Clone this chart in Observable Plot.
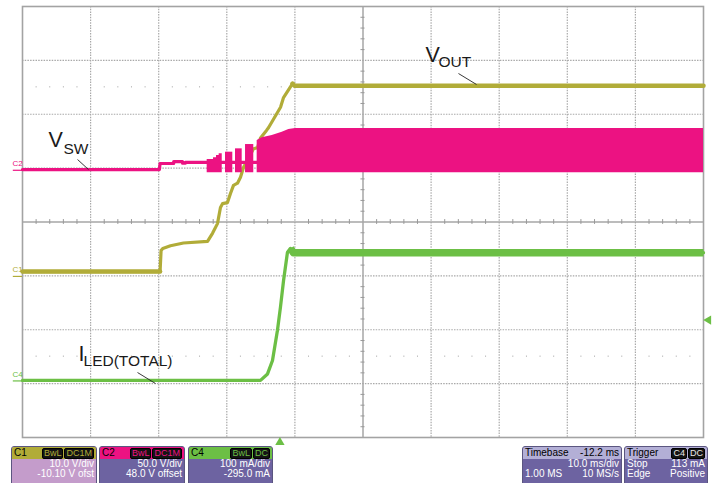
<!DOCTYPE html>
<html>
<head>
<meta charset="utf-8">
<script src="https://cdn.jsdelivr.net/npm/d3@7"></script>
<script src="https://cdn.jsdelivr.net/npm/@observablehq/plot@0.6"></script>
<style>
  html, body { margin: 0; padding: 0; background: #fff; overflow: hidden; }
  #panels { position: relative; width: 715px; height: 38px; font-family: "Liberation Sans", Arial, sans-serif; font-size: 10px; }
  .p { position: absolute; top: 1px; height: 42px; border: 1px solid #5b5680; border-radius: 3px 3px 0 0; overflow: hidden; box-sizing: border-box; }
  .h { height: 12px; line-height: 12px; padding: 0 2px; color: #000; display: flex; justify-content: space-between; align-items: center; }
  .r { height: 10px; line-height: 10px; padding: 0 2px; color: #fff; display: flex; justify-content: space-between; }
  .b { display: inline-block; background: #141414; border: 1px solid #000; border-radius: 2px; padding: 0 1px; font-size: 9px; line-height: 9px; margin-left: 1px; }
</style>
</head>
<body>
<div id="chart"></div>
<div id="panels"></div>
<script>
// ---- scope settings ----
const timebase = -12.2;       // ms
const msPerDiv = 10;
const hDivs = 10, vDivs = 8;
const c1Scale = 10,  c1Offset = -10.10;  // V/div, V
const c2Scale = 50,  c2Offset = 48.0;    // V/div, V
const c4Scale = 100, c4Offset = -295.0;  // mA/div, mA
const triggerLevel = 113;                // mA (C4)

// ---- colours ----
const c1Color = "#b1ac38", c2Color = "#ec1282", c4Color = "#6cbf45";

// ---- C1: V_OUT (ms, V) ----
const voutTime  = [-37.8, -17.6, -17.45, -17.2, -16.07, -14.16, -10.63, -9.90, -9.17, -8.73, -8.43, -7.70, -7.26, -6.82, -6.23, -5.79, -5.35, -3.88, -3.29, -2.85, -1.97, -1.68, 0.09, 0.53, 1.85, 2.14, 62.2];
const voutVolts = [0.9, 0.9, 4.8, 5.2, 5.7, 6.2, 6.5, 8.0, 9.8, 12.8, 13.5, 13.7, 15.4, 16.9, 17.3, 18.4, 20.2, 23.7, 23.9, 25.7, 27.1, 27.6, 31.4, 33.2, 35.8, 35.4, 35.4];

// ---- C2: V_SW (ms, V) ----
const vswLineTime  = [-37.8, -17.7, -17.6, -15.6, -15.6, -14.3, -14.3, -13.9, -13.9, -3.3];
const vswLineVolts = [0.7, 0.7, 6.3, 6.3, 8.0, 8.0, 6.6, 6.6, 7.4, 7.4];
const vswBurstSeg  = ["A", "A", "A", "A", "A", "B", "B", "C", "C", "D", "D"];
const vswBurstTime = [-10.68, -9.75, -9.31, -8.92, -8.47, -7.99, -6.92, -6.52, -5.54, -5.05, -3.84];
const vswBurstTop  = [10.0, 11.6, 13.7, 15.3, 15.3, 16.8, 16.8, 19.9, 19.9, 23.9, 23.9];
const vswEnvTime   = [-3.34, -2.60, -1.13, 0.34, 1.31, 2.29, 62.2];
const vswEnvTop    = [27.6, 30.1, 32.2, 35.3, 37.8, 38.8, 38.8];
const vswLow = -2.3;

// ---- C4: I_LED(TOTAL) (ms, mA) ----
const iledTime = [-37.8, -2.85, -1.82, -1.09, -0.36, 0.08, 0.53, 1.11, 1.55, 2.0, 62.2];
const iledMa   = [1, 1, 13, 38, 94, 137, 186, 239, 246, 238, 238];

// ---- annotations (ms, divisions) ----
const labelMain    = ["V", "V", "I"];
const labelMainT   = [-33.98, 21.38, -29.58];
const labelMainY   = [1.383, 2.961, -2.571];
const labelSub     = ["SW", "OUT", "LED(TOTAL)"];
const labelSubT    = [-31.78, 23.29, -28.84];
const labelSubY    = [1.271, 2.868, -2.682];
const leaderT1 = [-29.72, 26.22, -20.91], leaderY1 = [1.160, 2.756, -2.794];
const leaderT2 = [-28.11, 28.87, -18.27], leaderY2 = [0.974, 2.552, -2.998];

// ---- channel markers ----
const markerNames  = ["C1", "C2", "C4"];
const markerColors = [c1Color, c2Color, c4Color];
const markerGround = [c1Offset / c1Scale, c2Offset / c2Scale, c4Offset / c4Scale];

// ---- derived tables ----
const xDomain = [-timebase - msPerDiv * hDivs / 2, -timebase + msPerDiv * hDivs / 2];
const xCenter = -timebase;
const c1 = v => (v + c1Offset) / c1Scale;
const c2 = v => (v + c2Offset) / c2Scale;
const c4 = v => (v + c4Offset) / c4Scale;

const vout = voutTime.map((t, i) => ({t, y: c1(voutVolts[i])}));
const voutLow = vout.filter(d => d.t <= -17.6);
const voutHigh = vout.filter(d => d.t >= 1.85);
const vswLine = vswLineTime.map((t, i) => ({t, y: c2(vswLineVolts[i])}));
const vswBurst = vswBurstTime.map((t, i) => ({t, seg: vswBurstSeg[i], y1: c2(vswLow), y2: c2(vswBurstTop[i])}));
const vswEnv = vswEnvTime.map((t, i) => ({t, y1: c2(vswLow), y2: c2(vswEnvTop[i])}));
const iled = iledTime.map((t, i) => ({t, y: c4(iledMa[i])}));
const iledFlat = iled.filter(d => d.t >= 1.55);

const majorX = d3.range(1, hDivs).filter(k => k !== hDivs / 2).map(k => xDomain[0] + k * msPerDiv);
const majorY = d3.range(-vDivs / 2 + 1, vDivs / 2).filter(k => k !== 0);
const minorX = d3.range(1, hDivs * 5).filter(k => k % 5 !== 0).map(k => xDomain[0] + k * msPerDiv / 5);
const minorY = d3.range(-vDivs / 2 * 5 + 1, vDivs / 2 * 5).filter(k => k % 5 !== 0).map(k => k / 5);
const dotRows = [2.5, -2.5];
const dotsGrid = dotRows.flatMap(y => minorX.map(x => ({x, y})));

const labels = labelMain.map((s, i) => ({s, t: labelMainT[i], y: labelMainY[i]}));
const subs = labelSub.map((s, i) => ({s, t: labelSubT[i], y: labelSubY[i]}));
const leaders = leaderT1.map((t, i) => ({t1: t, y1: leaderY1[i], t2: leaderT2[i], y2: leaderY2[i]}));
const markers = markerNames.map((n, i) => ({n, c: markerColors[i], y: markerGround[i]}));

const gridStroke = "#a9a9a9";
const font = "Liberation Sans, Arial, sans-serif";

const chart = Plot.plot({
  width: 715,
  height: 445,
  marginLeft: 22,
  marginRight: 12,
  marginTop: 6,
  marginBottom: 8,
  x: {domain: xDomain, axis: null},
  y: {domain: [-vDivs / 2, vDivs / 2], axis: null},
  marks: [
    // graticule
    Plot.ruleX(majorX, {stroke: gridStroke, strokeWidth: 1.2, strokeDasharray: "1.5,1.2"}),
    Plot.ruleY(majorY, {stroke: gridStroke, strokeWidth: 1.2, strokeDasharray: "1.5,1.2"}),
    Plot.ruleX([xCenter], {stroke: "#a6a6a6", strokeWidth: 1.5}),
    Plot.ruleY([0], {stroke: "#a6a6a6", strokeWidth: 1.5}),
    Plot.ruleX(minorX, {y1: -0.045, y2: 0.045, stroke: "#999", strokeWidth: 1}),
    Plot.ruleY(minorY, {x1: xCenter - 0.3, x2: xCenter + 0.3, stroke: "#999", strokeWidth: 1}),
    Plot.ruleX(dotsGrid, {x: "x", y1: d => d.y - 0.012, y2: d => d.y + 0.012, stroke: "#b5b5b5", strokeWidth: 1}),
    Plot.frame({stroke: "#a3a3a3", strokeWidth: 1.6}),

    // C1 V_OUT
    Plot.line(vout, {x: "t", y: "y", stroke: c1Color, strokeWidth: 3.2, strokeLinejoin: "round"}),
    Plot.line(voutLow, {x: "t", y: "y", stroke: c1Color, strokeWidth: 4.5}),
    Plot.line(voutHigh, {x: "t", y: "y", stroke: c1Color, strokeWidth: 4.5}),
    // C4 I_LED
    Plot.line(iled, {x: "t", y: "y", stroke: c4Color, strokeWidth: 3.3, strokeLinejoin: "round"}),
    Plot.line(iledFlat, {x: "t", y: "y", stroke: c4Color, strokeWidth: 7.5, strokeLinecap: "butt"}),
    // C2 V_SW
    Plot.line(vswLine, {x: "t", y: "y", stroke: c2Color, strokeWidth: 3.2}),
    Plot.areaY(vswBurst, {x: "t", y1: "y1", y2: "y2", z: "seg", fill: c2Color, curve: "step-after"}),
    Plot.areaY(vswEnv, {x: "t", y1: "y1", y2: "y2", fill: c2Color}),

    // annotations
    Plot.link(leaders, {x1: "t1", y1: "y1", x2: "t2", y2: "y2", stroke: "#222", strokeWidth: 0.9}),
    Plot.text(labels, {x: "t", y: "y", text: "s", textAnchor: "start", lineAnchor: "bottom", fontSize: 21.5, fontFamily: font, fill: "#1a1a1a"}),
    Plot.text(subs, {x: "t", y: "y", text: "s", textAnchor: "start", lineAnchor: "bottom", fontSize: 15.5, fontFamily: font, fill: "#1a1a1a"}),

    // channel ground markers
    Plot.ruleY(markers, {y: "y", x1: xDomain[0] - 1.35, x2: xDomain[0], stroke: "c", strokeWidth: 1.2}),
    Plot.text(markers, {x: xDomain[0], y: "y", text: "n", dx: -10, dy: -4, textAnchor: "start", lineAnchor: "bottom", fontSize: 8, fontFamily: font, fill: "c"}),

    // trigger markers
    Plot.dot([0], {x: d => d, y: -vDivs / 2, dy: 5, symbol: "triangle", r: 3.6, fill: c4Color, stroke: "none"}),
    Plot.dot([triggerLevel], {x: xDomain[1], y: d => c4(d), dx: 5, symbol: "triangle", rotate: -90, r: 3.4, fill: c4Color, stroke: "none"})
  ]
});
chart.style.display = "block";
document.getElementById("chart").appendChild(chart);

// ---- info panels ----
const panelSpecs = [
  {left: 11,  width: 86,  head: c1Color, body: "#c49ccb", title: "C1", badges: ["BwL", "DC1M"], badgeColor: c1Color, rows: [["", "10.0 V/div"], ["", "-10.10 V ofst"]]},
  {left: 99,  width: 86,  head: c2Color, body: "#6d63a1", title: "C2", badges: ["BwL", "DC1M"], badgeColor: c2Color, rows: [["", "50.0 V/div"], ["", "48.0 V offset"]]},
  {left: 188, width: 85,  head: c4Color, body: "#6d63a1", title: "C4", badges: ["BwL", "DC"], badgeColor: c4Color, rows: [["", "100 mA/div"], ["", "-295.0 mA"]]},
  {left: 522, width: 100, head: "#b3afd6", body: "#6d63a1", title: "Timebase", right: "-12.2 ms", badges: [], rows: [["", "10.0 ms/div"], ["1.00 MS", "10 MS/s"]]},
  {left: 624, width: 84,  head: "#b3afd6", body: "#6d63a1", title: "Trigger", badges: ["C4", "DC"], badgeColor: "#e8e8e8", rows: [["Stop", "113 mA"], ["Edge", "Positive"]]}
];
const panels = document.getElementById("panels");
for (const p of panelSpecs) {
  const el = document.createElement("div");
  el.className = "p";
  el.style.left = p.left + "px";
  el.style.width = p.width + "px";
  el.style.background = p.body;
  const right = p.right ? `<span>${p.right}</span>` :
    `<span>${p.badges.map(b => `<span class="b" style="color:${p.badgeColor}">${b}</span>`).join("")}</span>`;
  el.innerHTML = `<div class="h" style="background:${p.head}"><span>${p.title}</span>${right}</div>` +
    p.rows.map(r => `<div class="r"><span>${r[0]}</span><span>${r[1]}</span></div>`).join("");
  panels.appendChild(el);
}
</script>
</body>
</html>
